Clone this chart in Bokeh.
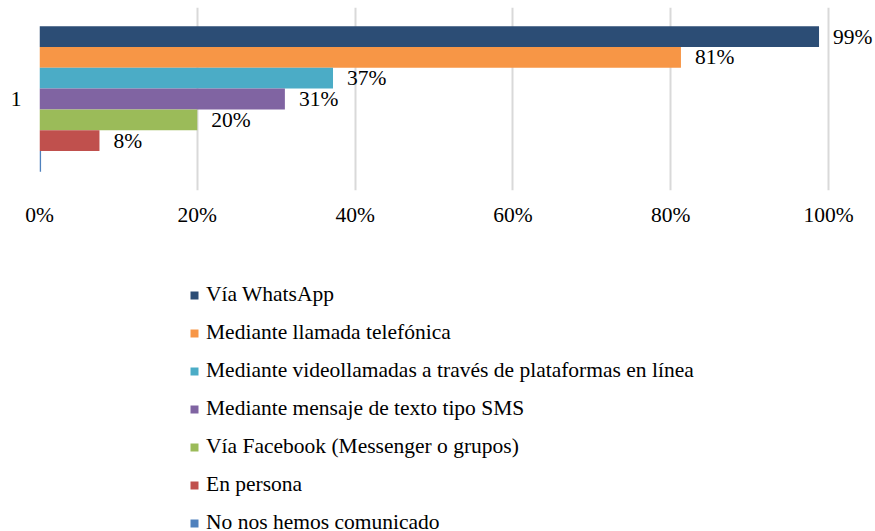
from bokeh.plotting import figure
from bokeh.layouts import column
from bokeh.models import (ColumnDataSource, Range1d, FixedTicker, Legend, LegendItem,
                          LabelSet, NumeralTickFormatter)
from bokeh.embed import file_html
from bokeh.resources import INLINE

# ---- data ----
categories = [
    "Vía WhatsApp",
    "Mediante llamada telefónica",
    "Mediante videollamadas a través de plataformas en línea",
    "Mediante mensaje de texto tipo SMS",
    "Vía Facebook (Messenger o grupos)",
    "En persona",
    "No nos hemos comunicado",
]
values = [0.988, 0.813, 0.372, 0.311, 0.200, 0.076, 0.002]
value_labels = ["99%", "81%", "37%", "31%", "20%", "8%", ""]
colors = ["#2C4D75", "#F79646", "#4BACC6", "#8064A2", "#9BBB59", "#C0504D", "#4F81BD"]
group_label = "1"
x_ticks = [0, 0.2, 0.4, 0.6, 0.8, 1.0]

FONT = "Liberation Serif"
FS = "21.5px"

n = len(categories)
slot = 0.1137
ypos = [0.5 + ((n - 1) / 2 - i) * slot for i in range(n)]

src = ColumnDataSource(dict(cat=categories, val=values, lab=value_labels,
                            color=colors, y=ypos))

# ---- chart ----
# frame spans x 39..875 so the right-hand labels are not clipped; 100% sits at x=828
p = figure(width=875, height=240, output_backend="svg", toolbar_location=None,
           x_range=Range1d(0, 836 / 789), y_range=Range1d(0, 1),
           min_border_left=39, min_border_right=0, min_border_top=7,
           min_border_bottom=50)
p.outline_line_color = None

r = p.hbar(y="y", right="val", left=0, height=slot, color="color", source=src,
           line_color=None)

labels = LabelSet(x="val", y="y", text="lab", source=src, x_offset=14,
                  text_baseline="middle", text_font=FONT, text_font_size=FS,
                  text_color="#000000")
p.add_layout(labels)

p.xaxis.ticker = FixedTicker(ticks=x_ticks)
p.xaxis.formatter = NumeralTickFormatter(format="0%")
p.xaxis.axis_line_color = None
p.xaxis.major_tick_line_color = None
p.xaxis.minor_tick_line_color = None
p.xaxis.major_tick_out = 0
p.xaxis.major_tick_in = 0
p.xaxis.major_label_text_font = FONT
p.xaxis.major_label_text_font_size = FS
p.xaxis.major_label_text_color = "#000000"
p.xaxis.major_label_standoff = 12

p.yaxis.ticker = FixedTicker(ticks=[0.5])
p.yaxis.major_label_overrides = {0.5: group_label}
p.yaxis.axis_line_color = None
p.yaxis.major_tick_line_color = None
p.yaxis.minor_tick_line_color = None
p.yaxis.major_tick_out = 0
p.yaxis.major_tick_in = 0
p.yaxis.major_label_text_font = FONT
p.yaxis.major_label_text_font_size = FS
p.yaxis.major_label_text_color = "#000000"
p.yaxis.major_label_standoff = 18

p.xgrid.ticker = FixedTicker(ticks=x_ticks)
p.xgrid.grid_line_color = "#D9D9D9"
p.xgrid.grid_line_width = 2
p.ygrid.grid_line_color = None

# ---- legend panel ----
q = figure(width=875, height=291, output_backend="svg", toolbar_location=None,
           x_range=Range1d(0, 1), y_range=Range1d(0, 1),
           x_axis_type=None, y_axis_type=None,
           min_border_left=0, min_border_right=0, min_border_top=0,
           min_border_bottom=0)
q.outline_line_color = None
q.xgrid.visible = False
q.ygrid.visible = False
rq = q.hbar(y="y", right="val", left=0, height=slot, color="color", source=src,
            line_color=None, visible=False)

items = [LegendItem(label=c, renderers=[rq], index=i) for i, c in enumerate(categories)]
legend = Legend(items=items, location=(150, -4), orientation="vertical",
                glyph_width=10, glyph_height=10, label_height=24, spacing=13,
                label_standoff=7, padding=0, margin=0,
                label_text_font=FONT, label_text_font_size=FS,
                label_text_color="#000000",
                inactive_fill_alpha=0,
                border_line_color=None, background_fill_alpha=0)
q.add_layout(legend, "center")

layout = column(p, q, spacing=0)
open("out.html", "w").write(file_html(layout, INLINE))
